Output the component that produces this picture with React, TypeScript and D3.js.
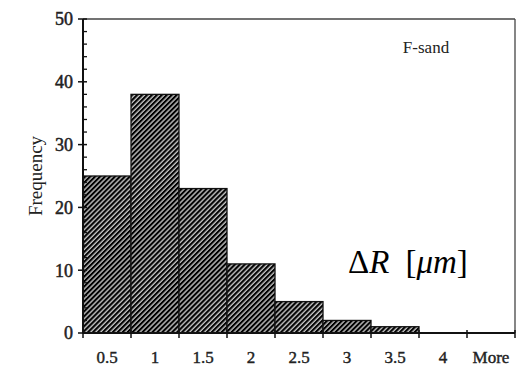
import { useEffect, useRef } from "react";
import * as d3 from "d3";

// Classes do histograma (limite superior de cada bin)
const BINS = ["0.5", "1", "1.5", "2", "2.5", "3", "3.5", "4", "More"];
// Frequência lida em cada bin
const FREQ = [25, 38, 23, 11, 5, 2, 1, 0, 0];
const Y_TICKS = [0, 10, 20, 30, 40, 50];

const WIDTH = 516;
const HEIGHT = 368;
const FONT = "Liberation Serif";

const App = () => {
  const svgRef = useRef<SVGSVGElement>(null);

  useEffect(() => {
    if (!svgRef.current) return;
    const svg = d3.select(svgRef.current);
    svg.selectAll("*").remove();

    const margin = { top: 19, right: 1, bottom: 35, left: 83 };
    const innerW = WIDTH - margin.left - margin.right;
    const innerH = HEIGHT - margin.top - margin.bottom;

    // Padrão hachurado diagonal
    const defs = svg.append("defs");
    const pat = defs
      .append("pattern")
      .attr("id", "hatch")
      .attr("patternUnits", "userSpaceOnUse")
      .attr("width", 3.5)
      .attr("height", 3.5)
      .attr("patternTransform", "rotate(45)");
    pat.append("rect").attr("width", 3.5).attr("height", 3.5).attr("fill", "#c4c4c4");
    pat
      .append("line")
      .attr("x1", 1)
      .attr("x2", 1)
      .attr("y1", 0)
      .attr("y2", 3.5)
      .attr("stroke", "#000")
      .attr("stroke-width", 2.2);

    const g = svg.append("g").attr("transform", `translate(${margin.left},${margin.top})`);

    const x = d3.scaleBand().domain(BINS).range([0, innerW]).padding(0);
    const y = d3.scaleLinear().domain([0, 50]).range([innerH, 0]);

    // Barras
    g.selectAll("rect.bar")
      .data(BINS.map((b, i) => ({ bin: b, v: FREQ[i] })).filter((d) => d.v > 0))
      .enter()
      .append("rect")
      .attr("class", "bar")
      .attr("x", (d) => x(d.bin)!)
      .attr("y", (d) => y(d.v))
      .attr("width", x.bandwidth())
      .attr("height", (d) => innerH - y(d.v))
      .attr("fill", "url(#hatch)")
      .attr("stroke", "#111")
      .attr("stroke-width", 1.3);

    // Moldura (topo e direita)
    g.append("line")
      .attr("x1", 0).attr("x2", innerW).attr("y1", 0).attr("y2", 0)
      .attr("stroke", "#444").attr("stroke-width", 1.3);
    g.append("line")
      .attr("x1", innerW).attr("x2", innerW).attr("y1", 0).attr("y2", innerH)
      .attr("stroke", "#444").attr("stroke-width", 1.3);

    // Eixo Y
    g.append("line")
      .attr("x1", 0).attr("x2", 0).attr("y1", 0).attr("y2", innerH)
      .attr("stroke", "#111").attr("stroke-width", 2);
    const minor = d3.range(0, 51, 2).filter((v) => v % 10 !== 0);
    g.selectAll("line.minor")
      .data(minor)
      .enter()
      .append("line")
      .attr("x1", 0).attr("x2", 4)
      .attr("y1", (d) => y(d)).attr("y2", (d) => y(d))
      .attr("stroke", "#111").attr("stroke-width", 1.3);
    g.selectAll("line.major")
      .data(Y_TICKS)
      .enter()
      .append("line")
      .attr("x1", -5).attr("x2", 4)
      .attr("y1", (d) => y(d)).attr("y2", (d) => y(d))
      .attr("stroke", "#111").attr("stroke-width", 1.5);
    g.selectAll("text.ytick")
      .data(Y_TICKS)
      .enter()
      .append("text")
      .attr("x", -10)
      .attr("y", (d) => y(d))
      .attr("dy", "0.35em")
      .attr("text-anchor", "end")
      .attr("font-family", FONT)
      .attr("font-size", 18)
      .attr("fill", "#222")
      .attr("stroke", "#222")
      .attr("stroke-width", 0.5)
      .text((d) => d);

    // Eixo X
    g.append("line")
      .attr("x1", 0).attr("x2", innerW).attr("y1", innerH).attr("y2", innerH)
      .attr("stroke", "#111").attr("stroke-width", 2);
    const bounds = BINS.map((b) => x(b)!).concat([innerW]);
    g.selectAll("line.xtick")
      .data(bounds)
      .enter()
      .append("line")
      .attr("x1", (d) => d).attr("x2", (d) => d)
      .attr("y1", innerH - 3).attr("y2", innerH + 5)
      .attr("stroke", "#111").attr("stroke-width", 1.5);
    g.selectAll("text.xtick")
      .data(BINS)
      .enter()
      .append("text")
      .attr("x", (d) => x(d)! + x.bandwidth() / 2)
      .attr("y", innerH + 24)
      .attr("dy", "0.35em")
      .attr("text-anchor", "middle")
      .attr("font-family", FONT)
      .attr("font-size", 17)
      .attr("fill", "#222")
      .attr("stroke", "#222")
      .attr("stroke-width", 0.4)
      .text((d) => d);

    // Rótulo do eixo Y
    svg.append("text")
      .attr("transform", `translate(35,${margin.top + innerH / 2}) rotate(-90)`)
      .attr("dy", "0.35em")
      .attr("text-anchor", "middle")
      .attr("font-family", FONT)
      .attr("font-size", 19)
      .attr("fill", "#222")
      .text("Frequency");

    // Legenda do conjunto
    svg.append("text")
      .attr("x", 426)
      .attr("y", 47)
      .attr("dy", "0.35em")
      .attr("text-anchor", "middle")
      .attr("font-family", FONT)
      .attr("font-size", 17)
      .attr("fill", "#222")
      .text("F-sand");

    // Anotação ΔR [μm]
    const ann = svg.append("text")
      .attr("x", 348)
      .attr("y", 273)
      .attr("font-family", FONT)
      .attr("font-size", 33)
      .attr("fill", "#000");
    ann.append("tspan").text("Δ");
    ann.append("tspan").attr("font-style", "italic").text("R");
    ann.append("tspan").attr("dx", 16).text("[");
    ann.append("tspan").attr("font-style", "italic").text("μm");
    ann.append("tspan").text("]");
  }, []);

  return (
    <svg
      ref={svgRef}
      width={WIDTH}
      height={HEIGHT}
      style={{ position: "absolute", left: 0, top: 0, background: "#fff" }}
    />
  );
};

export default App;
